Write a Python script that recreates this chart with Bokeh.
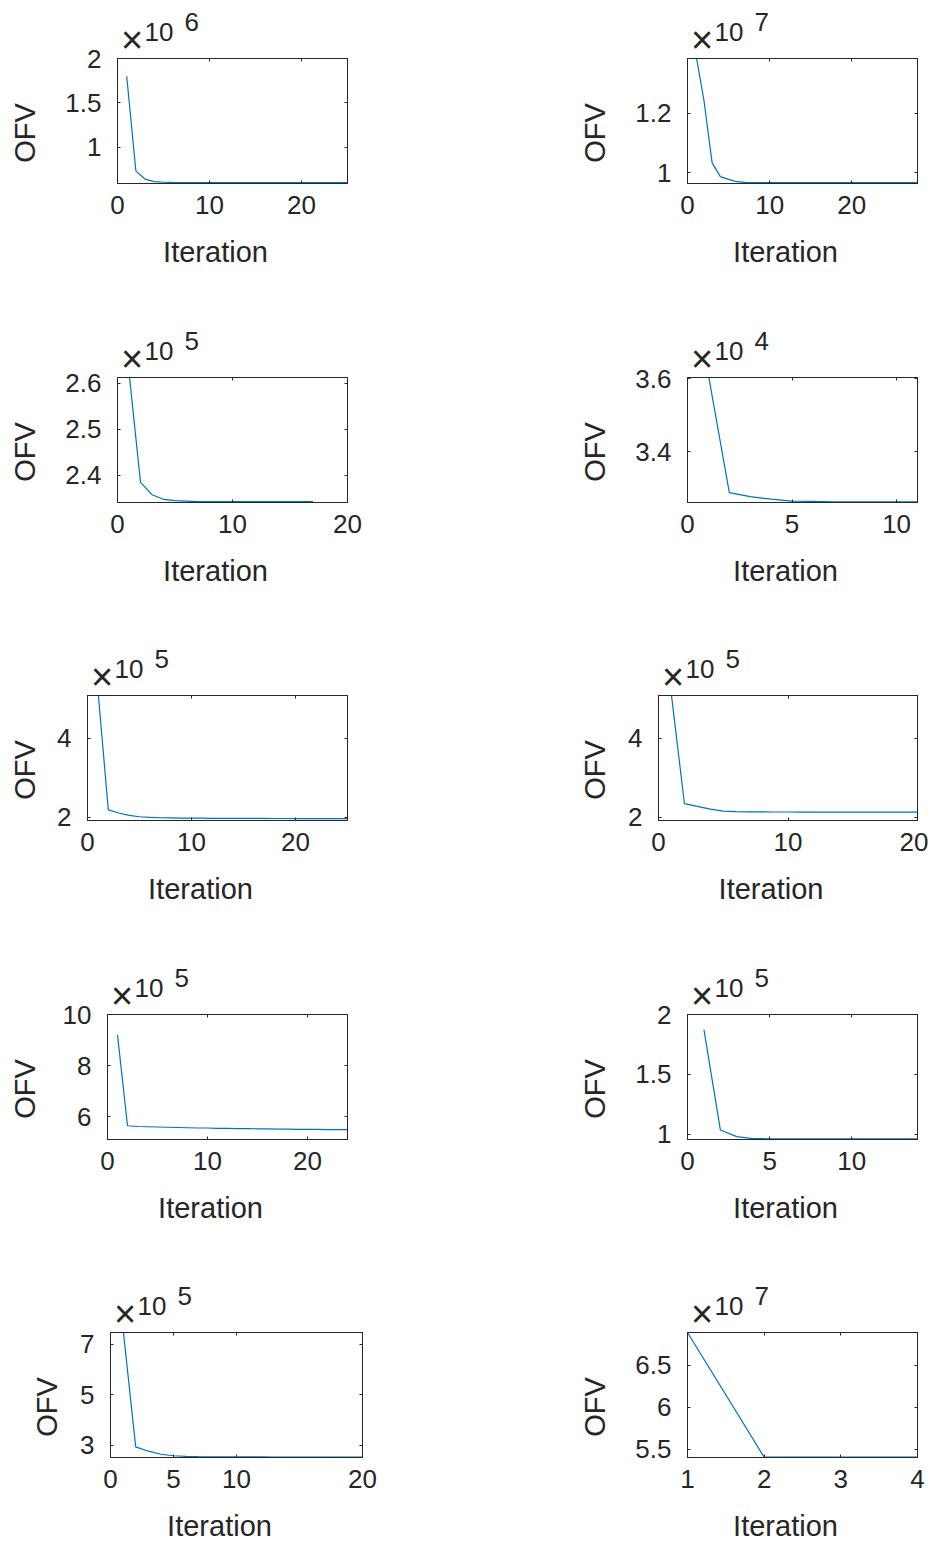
import math

from bokeh.embed import file_html
from bokeh.layouts import column, row
from bokeh.models import (CustomJSTickFormatter, FixedTicker, Label, LinearAxis,
                          Range1d)
from bokeh.plotting import figure
from bokeh.resources import INLINE

# ---- objective function value per iteration (in units of 10^exponent) ----
ofv_a = [1.80, 0.73, 0.64, 0.612, 0.604, 0.602, 0.601, 0.601, 0.600, 0.600,
         0.600, 0.600, 0.600, 0.600, 0.600, 0.600, 0.600, 0.600, 0.600, 0.600,
         0.600, 0.600, 0.600, 0.600, 0.600]
ofv_b = [1.400, 1.243, 1.033, 0.987, 0.978, 0.970, 0.968, 0.967, 0.967, 0.967,
         0.967, 0.967, 0.967, 0.967, 0.967, 0.967, 0.967, 0.967, 0.967, 0.967,
         0.967, 0.967, 0.967, 0.967, 0.967, 0.967, 0.967, 0.967]
ofv_c = [2.625, 2.384, 2.357, 2.347, 2.344, 2.343, 2.342, 2.342, 2.342, 2.342,
         2.342, 2.342, 2.342, 2.342, 2.342, 2.342, 2.342]
ofv_d = [3.610, 3.288, 3.277, 3.270, 3.265, 3.264, 3.263, 3.263, 3.263, 3.263,
         3.263]
ofv_e = [5.24, 2.19, 2.11, 2.05, 2.015, 2.00, 1.99, 1.985, 1.98, 1.98,
         1.978, 1.976, 1.975, 1.974, 1.973, 1.972, 1.972, 1.971, 1.971, 1.970,
         1.970, 1.970, 1.970, 1.970, 1.970]
ofv_f = [5.10, 2.35, 2.28, 2.21, 2.16, 2.145, 2.14, 2.138, 2.136, 2.135,
         2.134, 2.133, 2.132, 2.131, 2.131, 2.130, 2.130, 2.130, 2.130, 2.130]
ofv_g = [9.20, 5.64, 5.61, 5.60, 5.59, 5.58, 5.57, 5.56, 5.55, 5.55,
         5.54, 5.54, 5.53, 5.53, 5.52, 5.52, 5.51, 5.51, 5.50, 5.50,
         5.50, 5.49, 5.49, 5.49]
ofv_h = [1.874, 1.035, 0.979, 0.963, 0.961, 0.960, 0.960, 0.960, 0.960, 0.960,
         0.960, 0.960, 0.960, 0.960]
ofv_i = [7.60, 2.93, 2.76, 2.64, 2.58, 2.555, 2.545, 2.54, 2.535, 2.533,
         2.532, 2.531, 2.530, 2.530, 2.530, 2.530, 2.530, 2.530, 2.530, 2.530]
ofv_j = [6.89, 5.405, 5.405, 5.405]

series = [ofv_a, ofv_b, ofv_c, ofv_d, ofv_e, ofv_f, ofv_g, ofv_h, ofv_i, ofv_j]
exponents = [6, 7, 5, 4, 5, 5, 5, 5, 5, 7]

# axis limits and tick positions
x_limits = [(0, 25), (0, 28), (0, 20), (0, 11), (0, 25),
            (0, 20), (0, 24), (0, 14), (0, 20), (1, 4)]
y_limits = [(0.59, 2.0), (0.964, 1.383), (2.340, 2.613), (3.261, 3.603),
            (1.92, 5.09), (1.92, 5.09), (5.1, 10.0), (0.955, 2.0),
            (2.51, 7.47), (5.40, 6.89)]
x_ticks = [[0, 10, 20], [0, 10, 20], [0, 10, 20], [0, 5, 10], [0, 10, 20],
           [0, 10, 20], [0, 10, 20], [0, 5, 10], [0, 5, 10, 20], [1, 2, 3, 4]]
y_ticks = [[1, 1.5, 2], [1, 1.2], [2.4, 2.5, 2.6], [3.4, 3.6], [2, 4],
           [2, 4], [6, 8, 10], [1, 1.5, 2], [3, 5, 7], [5.5, 6, 6.5]]

# ---- page geometry (pixels) ----
COL_W = 464
ROW_H = [319, 318, 319, 318, 270]
TOP = 58
FRAME_H = 125
frame_left = [117, 223, 117, 223, 87, 194, 107, 223, 110, 223]
frame_right = [117, 11, 117, 11, 117, 11, 117, 11, 102, 11]
ylabel_dx = [-82, -82, -82, -82, -52, -53, -72, -82, -53, -82]

FONT = "Liberation Sans"
INK = "#262626"
BLUE = "#0072BD"
TICK_PX = "26px"
LABEL_PX = "29px"

plain = CustomJSTickFormatter(code="return Number(tick.toFixed(4)).toString();")


def style_axis(ax, ticks, standoff):
    ax.ticker = FixedTicker(ticks=ticks)
    ax.major_tick_in = 3
    ax.major_tick_out = 0
    ax.minor_tick_in = 0
    ax.minor_tick_out = 0
    ax.axis_line_color = INK
    ax.major_tick_line_color = INK
    ax.major_label_standoff = standoff
    ax.major_label_text_font = FONT
    ax.major_label_text_font_size = TICK_PX
    ax.major_label_text_color = INK


def mirror_axis(ticks):
    return LinearAxis(ticker=FixedTicker(ticks=ticks),
                      formatter=CustomJSTickFormatter(code="return '';"),
                      major_tick_in=3, major_tick_out=0,
                      minor_tick_in=0, minor_tick_out=0,
                      major_label_standoff=0,
                      major_label_text_font_size="1px",
                      axis_line_color=INK, major_tick_line_color=INK)


def text(p, side, s, x, y, dx, dy, size, align, baseline, angle=0.0):
    # anchored at a data position, shifted by dx, dy pixels (dy upwards);
    # kept in a side panel so that it is not clipped to the frame
    p.add_layout(Label(x=x, y=y, x_offset=dx, y_offset=dy, text=s,
                       text_font=FONT, text_font_size=size, text_color=INK,
                       text_align=align, text_baseline=baseline, angle=angle),
                 side)


def panel(k, height):
    ofv = series[k]
    iters = list(range(1, len(ofv) + 1))
    x0, x1 = x_limits[k]
    y0, y1 = y_limits[k]
    p = figure(width=COL_W, height=height,
               x_range=Range1d(x0, x1), y_range=Range1d(y0, y1),
               output_backend="svg", toolbar_location=None,
               min_border_left=frame_left[k], min_border_right=frame_right[k],
               min_border_top=TOP, min_border_bottom=height - TOP - FRAME_H,
               background_fill_color="white", border_fill_color="white",
               outline_line_color=INK, outline_line_width=1)
    p.grid.visible = False
    style_axis(p.xaxis[0], x_ticks[k], 12)
    style_axis(p.yaxis[0], y_ticks[k], 16)
    p.xaxis[0].formatter = plain
    p.yaxis[0].formatter = plain
    p.add_layout(mirror_axis(x_ticks[k]), "above")
    p.add_layout(mirror_axis(y_ticks[k]), "right")

    p.line(iters, ofv, line_color=BLUE, line_width=1.2)

    # scale factor written above the top-left corner; it is hosted by the
    # side panel that has spare room (right for the left column, left otherwise)
    side = "right" if k % 2 == 0 else "left"
    text(p, side, "\u00d7", x0, y1, 14.5, 19, "38px", "center", "middle")
    text(p, side, "10", x0, y1, 27, 27, TICK_PX, "left", "alphabetic")
    text(p, side, str(exponents[k]), x0, y1, 67, 37, TICK_PX, "left", "alphabetic")

    # axis titles
    text(p, "below", "Iteration", (x0 + x1) / 2, y0, -17, -68, LABEL_PX,
         "center", "alphabetic")
    text(p, "left", "OFV", x0, (y0 + y1) / 2, ylabel_dx[k] - 11, -12, LABEL_PX,
         "center", "alphabetic", angle=math.pi / 2)
    return p


rows = []
for r, h in enumerate(ROW_H):
    rows.append(row(panel(2 * r, h), panel(2 * r + 1, h)))

layout = column(*rows)
open("out.html", "w").write(file_html(layout, INLINE))
